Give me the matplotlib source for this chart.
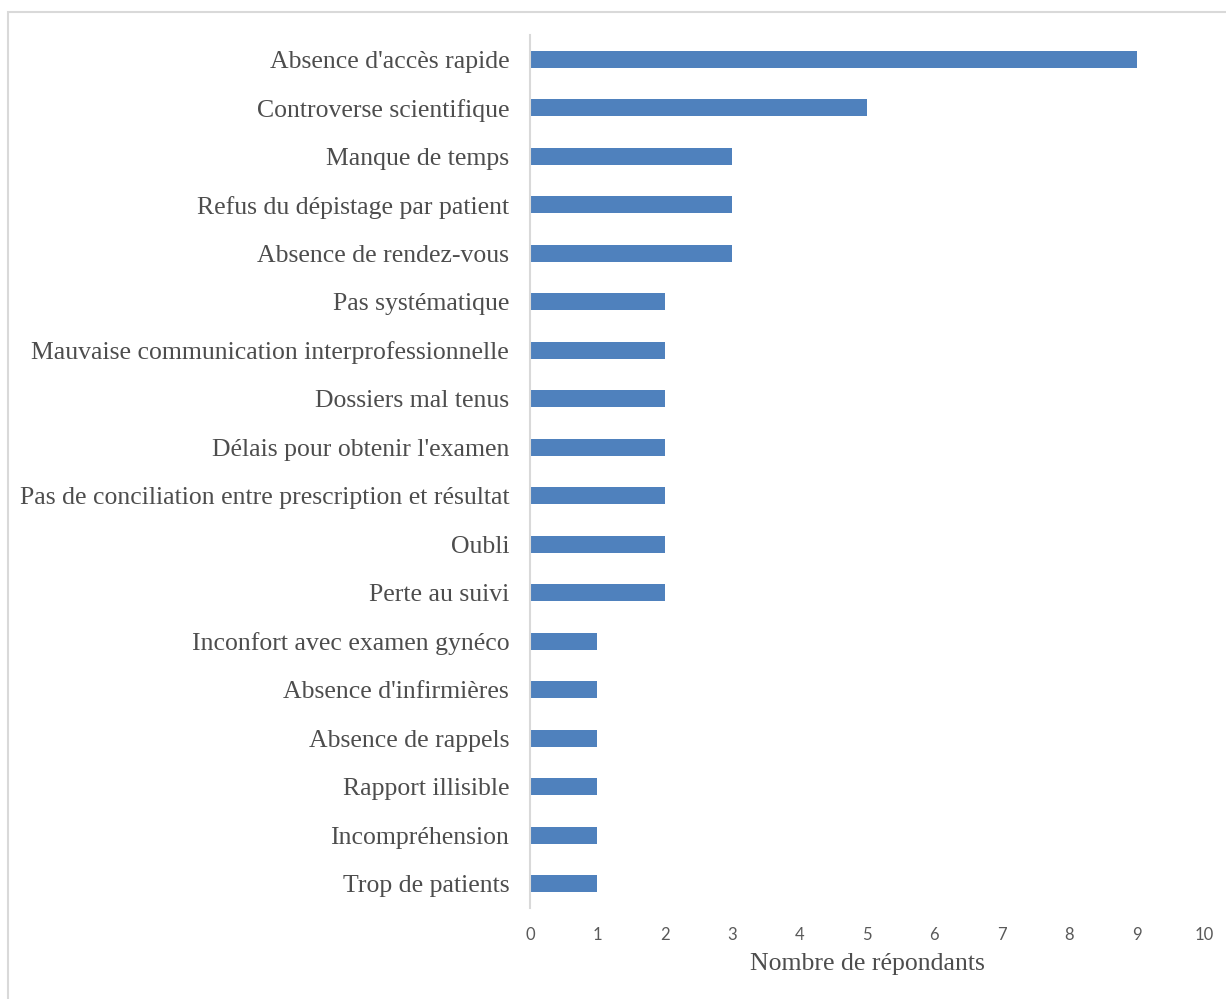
import matplotlib.pyplot as plt
from matplotlib.patches import Rectangle

# categories, top to bottom
categories = [
    "Absence d'accès rapide",
    "Controverse scientifique",
    "Manque de temps",
    "Refus du dépistage par patient",
    "Absence de rendez-vous",
    "Pas systématique",
    "Mauvaise communication interprofessionnelle",
    "Dossiers mal tenus",
    "Délais pour obtenir l'examen",
    "Pas de conciliation entre prescription et résultat",
    "Oubli",
    "Perte au suivi",
    "Inconfort avec examen gynéco",
    "Absence d'infirmières",
    "Absence de rappels",
    "Rapport illisible",
    "Incompréhension",
    "Trop de patients",
]
counts = [9, 5, 3, 3, 3, 2, 2, 2, 2, 2, 2, 2, 1, 1, 1, 1, 1, 1]
xticks = list(range(0, 11))

W, H = 1226, 999
fig = plt.figure(figsize=(W / 100, H / 100), dpi=100)
ax = fig.add_axes([530 / W, 1 - 908 / H, (1204 - 530) / W, (908 - 35) / H])

ypos = list(range(len(categories)))
ax.barh(ypos, counts, height=0.35, color='#4F81BD')

ax.set_ylim(len(categories) - 0.5, -0.5)
ax.set_xlim(0, 10)

ax.set_yticks(ypos)
ax.set_yticklabels(categories, family='Liberation Serif', fontsize=18.5, color='#4D4D4D')
ax.set_xticks(xticks)
ax.set_xticklabels([str(t) for t in xticks], family='Lato', fontsize=12, color='#595959')
ax.tick_params(axis='both', length=0)
ax.tick_params(axis='y', pad=15)
ax.tick_params(axis='x', pad=14)

for s in ['top', 'right', 'bottom']:
    ax.spines[s].set_visible(False)
ax.spines['left'].set_color('#D9D9D9')
ax.spines['left'].set_linewidth(1.5)

ax.set_xlabel('Nombre de répondants', family='Liberation Serif', fontsize=18.5,
              color='#4D4D4D', labelpad=7)

# chart area border (only top and left edges visible)
fig.patches.append(Rectangle((8 / W, -0.1), 1.2, 1 - 12 / H + 0.1, transform=fig.transFigure,
                             fill=False, edgecolor='#D9D9D9', linewidth=1.5))

fig.savefig('out.png', dpi=100)
